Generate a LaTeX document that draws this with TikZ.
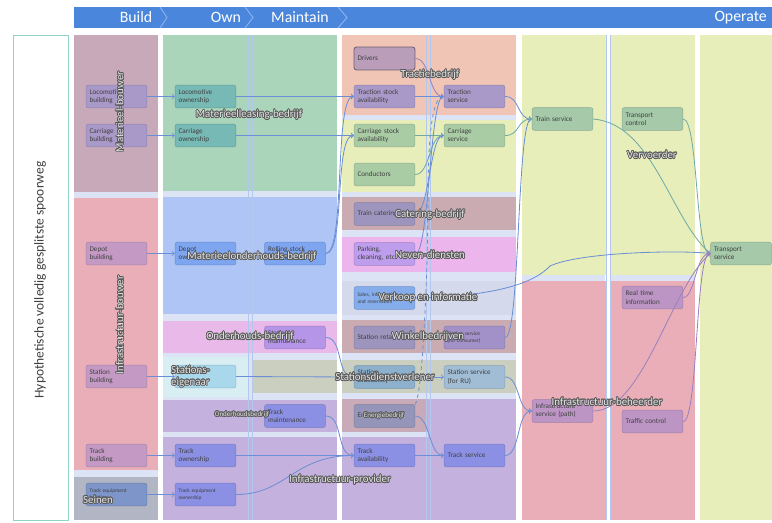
\documentclass[tikz,border=0pt]{standalone}
\usepackage{fontspec}
\setmainfont{Carlito}
\usepackage{contour}
\contourlength{0.6pt}
\contournumber{16}

% band colours
\definecolor{hdrblue}{HTML}{4A86DC}
\definecolor{hdrline}{HTML}{8DB3EE}
\definecolor{gaplav}{HTML}{DCE3F4}
\definecolor{colline}{HTML}{B3C8EE}
\definecolor{tealline}{HTML}{8FD3C9}
\definecolor{bMauve}{HTML}{C8A9BA}
\definecolor{bPink}{HTML}{E9AEB7}
\definecolor{bGrey}{HTML}{B2B5C4}
\definecolor{bGreen}{HTML}{AAD5BB}
\definecolor{bBlue}{HTML}{AFC5F5}
\definecolor{bMagenta}{HTML}{E8B9E9}
\definecolor{bCyan}{HTML}{D8EEF3}
\definecolor{bSage}{HTML}{CBCFBF}
\definecolor{bPurple}{HTML}{C4B1DD}
\definecolor{bSalmon}{HTML}{F0C5B5}
\definecolor{bYellow}{HTML}{E7EEB9}
\definecolor{bBrown}{HTML}{C9ABB1}
\definecolor{bOrchid}{HTML}{ECB5EC}
\definecolor{bLav}{HTML}{D4D9EC}
\definecolor{bRose}{HTML}{C9AAB8}
% box colours
\definecolor{xMauve}{HTML}{A999C8}
\definecolor{xPlum}{HTML}{C49AC5}
\definecolor{xSteel}{HTML}{7D95C9}
\definecolor{xTeal}{HTML}{76B9B5}
\definecolor{xBlue}{HTML}{7DA5F0}
\definecolor{xSky}{HTML}{A9D8EC}
\definecolor{xIndigo}{HTML}{8C90E4}
\definecolor{xViolet}{HTML}{B595E8}
\definecolor{xDriver}{HTML}{B99DB9}
\definecolor{xSage}{HTML}{A9CCA5}
\definecolor{xSlate}{HTML}{9D95BD}
\definecolor{xLilac}{HTML}{BD9DEC}
\definecolor{xCorn}{HTML}{85ADEC}
\definecolor{xDusk}{HTML}{8DB0CC}
\definecolor{xGrape}{HTML}{9595B9}
\definecolor{xAmethyst}{HTML}{A291C9}
\definecolor{xMist}{HTML}{A1BDD5}
\definecolor{xMint}{HTML}{A5C9A9}
\definecolor{xOrchid}{HTML}{BD95C5}
% connector colours
\definecolor{lnblue}{HTML}{6B8FD6}
\definecolor{lnteal}{HTML}{6FAAA8}
\definecolor{lnplum}{HTML}{9A80C0}

\newcommand{\orgtext}[1]{\contour{black!65}{#1}}

\begin{document}
\begin{tikzpicture}[x=0.03cm,y=-0.03cm,
	svc/.style={draw=#1!85!black, fill=#1, rounded corners=2pt, minimum width=52pt,
		minimum height=19.5pt, text width=46pt, align=left, inner sep=2.5pt,
		font=\fontsize{6.1}{6.9}\selectfont, text=black!75},
	tiny/.style={font=\fontsize{4.6}{5.4}\selectfont},
	org/.style={font=\fontsize{9.3}{10}\selectfont, text=white!90!black, inner sep=0pt},
	smallorg/.style={org, font=\fontsize{6}{7}\selectfont},
	flow/.style={-to, draw=#1, line width=0.7pt},
	flow/.default=lnblue,
	hdr/.style={text=white, font=\fontsize{13.5}{14}\selectfont, inner sep=0pt}]
	\useasboundingbox (0,0) rectangle (772,522);

	% header
	\fill[hdrblue] (74,7) rectangle (772,28);
	\draw[hdrline, line width=0.8pt] (160,7) -- (167,17.5) -- (160,28);
	\draw[hdrline, line width=0.8pt] (245,7) -- (253,17.5) -- (245,28);
	\draw[hdrline, line width=0.8pt] (338,7) -- (347,17.5) -- (338,28);
	\node[hdr] (h-build) at (136,17.5) {Build};
	\node[hdr] (h-own) at (226,17.5) {Own};
	\node[hdr] (h-maintain) at (300,17.5) {Maintain};
	\node[hdr, anchor=east] (h-operate) at (767,17.5) {Operate};

	% title box
	\draw[tealline, fill=white, line width=0.8pt] (13,35) rectangle (68,520);
	\node[rotate=90, font=\fontsize{11.5}{12}\selectfont, text=black!75] (title) at (40,280)
		{Hypothetische volledig gesplitste spoorweg};

	% columns
	\foreach \xa/\xb in {74/158, 163/337, 342/516, 522/605, 610/695, 700/772}
		\fill[gaplav] (\xa,35) rectangle (\xb,520);

	% bands
	\fill[bMauve] (74,35) rectangle (158,192);
	\fill[bPink] (74,198) rectangle (158,470);
	\fill[bGrey] (74,477) rectangle (158,520);
	\fill[bGreen] (163,35) rectangle (337,191);
	\fill[bBlue] (163,197) rectangle (337,314);
	\fill[bMagenta] (163,321) rectangle (337,353);
	\fill[bCyan] (163,357) rectangle (248,397);
	\fill[bSage] (252,360) rectangle (337,393);
	\fill[bPurple] (163,400) rectangle (337,432);
	\fill[bPurple] (163,437) rectangle (337,520);
	\fill[bSalmon] (342,35) rectangle (516,115);
	\fill[bYellow] (342,120) rectangle (516,192);
	\fill[bBrown] (342,197) rectangle (516,230);
	\fill[bOrchid] (342,237) rectangle (516,272);
	\fill[bLav] (342,281) rectangle (516,315);
	\fill[bBrown] (342,320) rectangle (516,353);
	\fill[bSage] (342,360) rectangle (516,393);
	\fill[bRose] (342,399) rectangle (428,432);
	\fill[bPurple] (342,437) rectangle (428,520);
	\fill[bPurple] (428,399) rectangle (516,520);
	\fill[bYellow] (522,35) rectangle (695,275);
	\fill[bPink] (522,281) rectangle (695,520);
	\fill[bYellow] (700,35) rectangle (772,520);
	\fill[white] (606,35) rectangle (610,520);
	\foreach \xl in {248, 252, 426, 430, 606, 610}
		\draw[colline, line width=0.5pt] (\xl,35) -- (\xl,520);

	% build
	\node[svc=xMauve] (lb) at (116.5,96.5) {Locomotive\\building};
	\node[svc=xMauve] (cb) at (116.5,135.5) {Carriage\\building};
	\node[svc=xPlum] (db) at (116.5,253.5) {Depot\\building};
	\node[svc=xPlum] (sb) at (116.5,376.5) {Station\\building};
	\node[svc=xPlum] (tb) at (116.5,455.5) {Track\\building};
	\node[svc=xSteel, tiny] (teb) at (116.5,494.5) {Track equipment\\building};
	% own
	\node[svc=xTeal] (lo) at (205.5,96.5) {Locomotive\\ownership};
	\node[svc=xTeal] (co) at (205.5,135.5) {Carriage\\ownership};
	\node[svc=xBlue] (dep) at (205.5,253.5) {Depot\\ownership};
	\node[svc=xSky] (se) at (205.5,376.5) {};
	\node[svc=xIndigo] (to) at (205.5,455.5) {Track\\ownership};
	\node[svc=xIndigo, tiny] (teo) at (205.5,494.5) {Track equipment\\ownership};
	% maintain
	\node[svc=xBlue] (rs) at (295,253.5) {Rolling stock\\maintenance};
	\node[svc=xViolet] (smt) at (295,337.5) {Station\\maintenance};
	\node[svc=xIndigo] (tm) at (295,416) {Track\\maintenance};
	% operate, first column
	\node[svc=xDriver, draw=xDriver!60!black, line width=0.7pt] (dr) at (384.5,58.5) {Drivers};
	\node[svc=xMauve] (tsa) at (384.5,96.5) {Traction stock\\availability};
	\node[svc=xSage] (csa) at (384.5,135.5) {Carriage stock\\availability};
	\node[svc=xSage] (cd) at (384.5,174.5) {Conductors};
	\node[svc=xSlate] (tcat) at (384.5,214) {Train catering};
	\node[svc=xLilac] (pk) at (384.5,254) {Parking,\\cleaning, etc.};
	\node[svc=xCorn, tiny] (sal) at (384.5,298) {Sales, information\\and reservation};
	\node[svc=xSlate] (sr) at (384.5,337.5) {Station retail};
	\node[svc=xDusk] (sav) at (384.5,377) {Station\\availability};
	\node[svc=xGrape] (eq) at (384.5,416) {Energy supply};
	\node[svc=xIndigo] (tav) at (384.5,455.5) {Track\\availability};
	% operate, second column
	\node[svc=xMauve] (ts) at (474.5,96.5) {Traction\\service};
	\node[svc=xSage] (cs) at (474.5,135.5) {Carriage\\service};
	\node[svc=xAmethyst, tiny] (ssc) at (474.5,337.5) {Station service\\(for consumer)};
	\node[svc=xMist] (ssr) at (474.5,377) {Station service\\(for RU)};
	\node[svc=xIndigo] (tsr) at (474.5,455.5) {Track service};
	% operate, right columns
	\node[svc=xMint] (trs) at (562.5,119) {Train service};
	\node[svc=xOrchid] (isp) at (562.5,411) {Infrastructure\\service (path)};
	\node[svc=xMint] (tcn) at (652.5,119) {Transport\\control};
	\node[svc=xOrchid] (rti) at (652.5,297.5) {Real time\\information};
	\node[svc=xOrchid] (tfc) at (652.5,421.5) {Traffic control};
	\node[svc=xMint] (tsv) at (741,253.5) {Transport\\service};

	% connectors
	\draw[flow] (lb.east) -- (lo.west);
	\draw[flow] (cb.east) -- (co.west);
	\draw[flow] (db.east) -- (dep.west);
	\draw[flow] (sb.east) -- (se.west);
	\draw[flow] (se.east) -- (sav.west);
	\draw[flow] (tb.east) -- (to.west);
	\draw[flow] (teb.east) -- (teo.west);
	\draw[flow] (lo.east) -- (tsa.west);
	\draw[flow] (co.east) -- (csa.west);
	\draw[flow] (rs.east) .. controls +(20,0) and +(-20,0) .. (tsa.west);
	\draw[flow] (rs.east) .. controls +(20,0) and +(-20,0) .. (csa.west);
	\draw[flow=lnplum] (dr.east) .. controls +(15,0) and +(-15,0) .. (ts.west);
	\draw[flow] (tsa.east) -- (ts.west);
	\draw[flow=lnteal] (csa.east) -- (cs.west);
	\draw[flow=lnteal] (cd.east) .. controls +(15,0) and +(-15,0) .. (cs.west);
	\draw[flow] (tcat.east) .. controls +(14,0) and +(-14,0) .. (cs.west);
	\draw[flow] (pk.east) .. controls +(14,0) and +(-14,0) .. (ts.west);
	\coordinate (dashup) at (428,200);
	\draw[flow, dashed] (eq.north east) .. controls +(8,-12) and +(0,60) .. (dashup)
		.. controls +(0,-60) and +(-12,0) .. (ts.west);
	\draw[flow] (sal.east) .. controls (500,296) and (535,282) .. (550,266)
		.. controls (580,252) and (680,250) .. (tsv.west);
	\draw[flow] (ssc.east) .. controls +(15,0) and +(-15,0) .. (trs.west);
	\draw[flow] (smt.east) .. controls +(18,0) and +(-18,0) .. (sav.west);
	\draw[flow] (sav.east) -- (ssr.west);
	\draw[flow] (tm.east) .. controls +(18,0) and +(-18,0) .. (tav.west);
	\draw[flow] (to.east) -- (tav.west);
	\draw[flow] (teo.east) .. controls +(50,0) and +(-60,0) .. (tav.west);
	\draw[flow] (eq.east) .. controls +(15,0) and +(-15,0) .. (tsr.west);
	\draw[flow] (tav.east) -- (tsr.west);
	\draw[flow] (ts.east) .. controls +(15,0) and +(-15,0) .. (trs.west);
	\draw[flow=lnteal] (cs.east) .. controls +(15,0) and +(-15,0) .. (trs.west);
	\draw[flow] (ssr.east) .. controls +(15,0) and +(-15,0) .. (isp.west);
	\draw[flow] (tsr.east) .. controls +(15,0) and +(-15,0) .. (isp.west);
	\draw[flow=lnteal] (trs.east) .. controls +(60,5) and +(-40,-35) .. (tsv.west);
	\draw[flow=lnteal] (tcn.east) .. controls +(15,0) and +(-15,0) .. (tsv.west);
	\draw[flow=lnplum] (rti.east) .. controls +(12,0) and +(-15,0) .. (tsv.west);
	\draw[flow=lnplum] (tfc.east) .. controls +(15,0) and +(-15,0) .. (tsv.west);
	\draw[flow=lnplum] (isp.east) .. controls +(50,0) and +(-40,35) .. (tsv.west);

	% organisations
	\node[org, rotate=90] (o-mb) at (120,112) {\orgtext{Materieel-bouwer}};
	\node[org, rotate=90] (o-ib) at (120,325) {\orgtext{Infrastructuur-bouwer}};
	\node[org] (o-sein) at (98,500) {\orgtext{Seinen}};
	\node[org] (o-lease) at (249,115) {\orgtext{Materieelleasing-bedrijf}};
	\node[org] (o-mo) at (252,257) {\orgtext{Materieelonderhouds-bedrijf}};
	\node[org] (o-oh) at (250,337) {\orgtext{Onderhouds-bedrijf}};
	\node[org, anchor=west, align=left] (o-se) at (171,377) {\orgtext{Stations-}\\\orgtext{eigenaar}};
	\node[smallorg] (o-ohb) at (242,415) {\orgtext{Onderhoudsbedrijf}};
	\node[org] (o-ip) at (340,480) {\orgtext{Infrastructuur-provider}};
	\node[org] (o-tract) at (430,75) {\orgtext{Tractiebedrijf}};
	\node[org] (o-cat) at (430,215) {\orgtext{Catering-bedrijf}};
	\node[org] (o-neven) at (430,255) {\orgtext{Neven-diensten}};
	\node[org] (o-verk) at (428,298) {\orgtext{Verkoop en informatie}};
	\node[org] (o-wink) at (428,337) {\orgtext{Winkelbedrijven}};
	\node[org] (o-sdv) at (385,377) {\orgtext{Stationsdienstverlener}};
	\node[smallorg] (o-en) at (384,416) {\orgtext{Energiebedrijf}};
	\node[org] (o-verv) at (652,155) {\orgtext{Vervoerder}};
	\node[org] (o-ibh) at (607,402) {\orgtext{Infrastructuur-beheerder}};
\end{tikzpicture}
\end{document}
